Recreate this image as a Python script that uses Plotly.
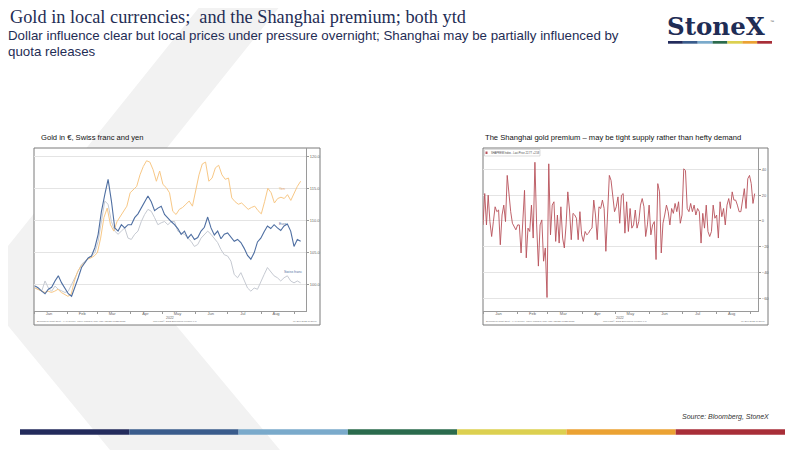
import plotly.graph_objects as go
import pandas as pd

# ---- data ----
# left chart: gold rebased (start of 2022 = 100)
yen = [99.5, 99.3, 99.0, 98.8, 99.0, 98.8, 99.0, 99.3, 98.8, 98.5, 98.2, 98.5, 100.6, 102.1, 102.9,
       103.4, 104.0, 104.2, 104.5, 105.0, 107.3, 110.5, 112.0, 109.4, 108.4, 109.9, 110.7, 111.5,
       112.3, 114.4, 114.9, 115.4, 117.2, 118.5, 119.4, 119.2, 118.0, 116.2, 117.8, 115.7, 115.2,
       114.4, 111.5, 111.0, 111.8, 112.1, 112.6, 113.1, 112.3, 114.6, 117.2, 118.9, 119.2, 116.2,
       116.7, 118.3, 118.7, 117.2, 116.5, 116.7, 113.6, 113.0, 112.6, 112.8, 112.3, 111.8, 112.1,
       112.3, 111.6, 111.1, 113.0, 115.1, 114.4, 112.8, 113.5, 113.7, 113.5, 114.1, 113.2, 114.4,
       115.4, 116.2]
euro = [99.8, 99.5, 99.0, 98.6, 99.3, 99.6, 100.6, 101.4, 100.3, 99.5, 98.6, 98.2, 99.5, 101.1,
        102.7, 103.4, 104.2, 104.5, 105.8, 107.9, 111.5, 114.1, 116.5, 113.1, 108.9, 108.4, 109.4,
        108.9, 109.4, 109.4, 110.5, 111.1, 112.0, 113.1, 113.9, 113.0, 111.6, 112.0, 112.3, 111.0,
        110.4, 109.9, 109.4, 108.8, 107.9, 108.4, 107.3, 107.9, 107.1, 107.4, 108.4, 109.0, 110.6,
        108.9, 107.8, 108.4, 107.2, 107.9, 108.1, 107.4, 106.8, 107.1, 106.6, 105.7, 104.6, 104.0,
        105.0, 106.7, 107.3, 108.3, 109.2, 108.8, 109.4, 108.9, 108.5, 109.2, 109.5, 108.4, 106.0,
        107.1, 106.8]
swiss = [99.5, 99.3, 99.0, 100.6, 99.5, 99.0, 99.8, 99.3, 99.0, 98.8, 99.0, 100.1, 101.1, 102.1,
         103.2, 103.7, 104.2, 104.5, 105.0, 106.8, 109.9, 113.1, 112.6, 109.9, 108.4, 107.9, 108.4,
         108.9, 107.3, 107.1, 107.9, 108.4, 109.9, 111.0, 111.8, 111.5, 110.5, 109.4, 109.7, 109.9,
         109.4, 109.9, 109.9, 108.4, 108.1, 107.9, 107.3, 106.8, 106.0, 106.3, 107.3, 107.9, 108.4,
         107.9, 107.3, 106.6, 105.5, 104.7, 104.5, 103.7, 101.6, 101.1, 101.9, 100.6, 99.5, 99.0,
         99.5, 99.3, 100.6, 101.6, 102.7, 102.1, 101.4, 101.1, 100.6, 101.1, 101.4, 100.6, 100.3,
         100.6, 100.3]

# right chart: Shanghai gold premium (USD/oz)
shanghai = [-3.1, 21.3, -3.1, 20.0, -0.5, -12.1, -0.5, 11.0, 7.2, 8.5, -18.5, 4.6, 12.3, -0.5,
            35.4, 17.4, 7.2, -1.8, -4.4, -6.9, -3.1, -3.1, -24.9, -3.1, 23.8, -28.7, -5.6, -8.2,
            12.3, -13.3, 45.6, -3.1, -35.1, -3.1, 0.8, -31.3, -21.0, -59.5, 44.4, -10.8, 12.3,
            14.9, -15.9, 4.6, -17.2, 11.0, -13.3, -21.0, -3.1, 22.6, 8.5, -14.6, 5.9, 4.6, 2.1,
            -14.6, 7.2, -10.8, -15.9, -8.2, -10.8, -9.5, -6.9, -5.6, 16.2, 4.6, -14.6, 11.0, 9.7,
            16.2, 9.7, -23.6, 9.7, 35.4, 31.5, 17.4, 7.2, 11.0, 18.7, -1.8, 20.0, 21.3, -9.5, 14.9,
            -8.2, 9.7, -5.6, -3.1, 8.5, -5.6, -0.5, 12.3, 17.4, 11.0, -12.1, -3.1, 12.3, -10.8,
            -3.1, -0.5, -30.0, 29.0, 22.6, -24.9, -1.8, 4.6, 12.3, 7.2, -3.1, 9.7, 5.9, 13.6, 7.2,
            14.9, -1.8, 4.6, 40.5, 39.2, 9.7, 7.2, 13.6, 7.2, 12.3, 4.6, 9.7, 7.2, -17.2, 5.9,
            -5.6, 12.3, -8.2, -12.1, -8.2, 12.3, 2.1, 4.6, -13.3, 14.9, 3.3, 9.7, -3.1, 12.3, 17.4,
            9.7, 22.6, 16.2, 16.2, 12.3, 7.2, 7.2, 17.4, 25.1, 9.7, 32.8, 35.4, 29.0, 13.6, 21.3]

months = ["Jan", "Feb", "Mar", "Apr", "May", "Jun", "Jul", "Aug"]
mid_months = ["2022-%02d-15" % m for m in range(1, 9)]
left_ticks = [100, 105, 110, 115, 120]
right_ticks = [-60, -40, -20, 0, 20, 40]
bar_colors = ["#232b5c", "#3a5c8c", "#7aaacb", "#2b6b4d", "#dcd050", "#eba233", "#a82e38"]

# the page puts the figure 8px in from the top-left corner of the window
OFF = 8
W, H = 800 - OFF, 450 - OFF


def px(x):
    return (x - OFF) / W


def py(y):
    return 1 - (y - OFF) / H


fig = go.Figure()
fig.add_trace(go.Scatter(x=pd.date_range("2022-01-02", "2022-09-07", periods=len(swiss)), y=swiss,
                         mode="lines", line=dict(color="#c6cad2", width=1), xaxis="x", yaxis="y"))
fig.add_trace(go.Scatter(x=pd.date_range("2022-01-02", "2022-09-07", periods=len(yen)), y=yen,
                         mode="lines", line=dict(color="#f8c886", width=1), xaxis="x", yaxis="y"))
fig.add_trace(go.Scatter(x=pd.date_range("2022-01-02", "2022-09-07", periods=len(euro)), y=euro,
                         mode="lines", line=dict(color="#4f6fa2", width=1.1), xaxis="x", yaxis="y"))
fig.add_trace(go.Scatter(x=pd.date_range("2022-01-01", "2022-09-05", periods=len(shanghai)),
                         y=shanghai, mode="lines", line=dict(color="#b8515a", width=0.9),
                         xaxis="x2", yaxis="y2"))

small = dict(family="Liberation Sans", size=4, color="#666666")
xcommon = dict(type="date", tickvals=mid_months, ticktext=months, ticks="", showgrid=False,
               showline=True, linecolor="#9a9a9a", linewidth=1, tickfont=small,
               ticklabelstandoff=-2,
               minor=dict(dtick="M1", tick0="2022-01-01", ticks="outside", ticklen=2,
                          tickcolor="#9a9a9a", showgrid=False),
               zeroline=False, fixedrange=True)
ycommon = dict(side="right", showgrid=True, gridcolor="#e4e4e4", gridwidth=1, showline=True,
               linecolor="#9a9a9a", linewidth=1, ticks="outside", ticklen=2, tickcolor="#9a9a9a",
               tickfont=small, zeroline=False)

fig.update_layout(
    width=W, height=H, margin=dict(l=0, r=0, t=0, b=0), showlegend=False,
    paper_bgcolor="white", plot_bgcolor="white",
    xaxis=dict(domain=[px(34), px(306)], range=["2022-01-01", "2022-09-12"], anchor="y", **xcommon),
    yaxis=dict(domain=[py(311), py(148)], range=[95.9, 121.4], anchor="x", tickvals=left_ticks,
               ticktext=["%.1f" % v for v in left_ticks], **ycommon),
    xaxis2=dict(domain=[px(483), px(758)], range=["2022-01-01", "2022-09-08"], anchor="y2", **xcommon),
    yaxis2=dict(domain=[py(311), py(148)], range=[-70, 56.7], anchor="x2", tickvals=right_ticks,
                **ycommon),
)

# background chevron and chart boxes
chev = [(205, 0), (285, 0), (99, 233), (280, 450), (110, 450), (0, 316), (0, 256)]
path = "M " + " L ".join("%.4f,%.4f" % (px(a), py(b)) for a, b in chev) + " Z"
shapes = [dict(type="path", path=path, xref="paper", yref="paper", fillcolor="#f2f2f2",
               line=dict(width=0), layer="below")]
for x0, x1 in [(34, 320), (483, 768)]:
    shapes.append(dict(type="rect", xref="paper", yref="paper", x0=px(x0), x1=px(x1),
                       y0=py(325), y1=py(148), fillcolor="white",
                       line=dict(color="#7a7a7a", width=1), layer="below"))
# legend box in the Shanghai chart
shapes.append(dict(type="rect", xref="paper", yref="paper", x0=px(484.5), x1=px(540),
                   y0=py(156), y1=py(149.5), fillcolor="white",
                   line=dict(color="#bbbbbb", width=0.5)))
shapes.append(dict(type="rect", xref="paper", yref="paper", x0=px(485.5), x1=px(487.5),
                   y0=py(154), y1=py(151.5), fillcolor="#b8515a", line=dict(width=0)))
# StoneX logo stripe and footer stripe
for i, c in enumerate(bar_colors):
    shapes.append(dict(type="rect", xref="paper", yref="paper",
                       x0=px(668 + i * 104 / 7), x1=px(668 + (i + 1) * 104 / 7),
                       y0=py(43.7), y1=py(41), fillcolor=c, line=dict(width=0)))
    shapes.append(dict(type="rect", xref="paper", yref="paper",
                       x0=px(20 + i * 765 / 7), x1=px(20 + (i + 1) * 765 / 7),
                       y0=py(434.7), y1=py(429.3), fillcolor=c, line=dict(width=0)))
fig.update_layout(shapes=shapes)


def note(x, y, text, size, color="#1f2d55", family="Liberation Sans", xanchor="left", **kw):
    fig.add_annotation(x=px(x), y=py(y), xref="paper", yref="paper", text=text, showarrow=False,
                       xanchor=xanchor, yanchor="middle", align="left",
                       font=dict(family=family, size=size, color=color), **kw)


note(8, 17, "Gold in local currencies;  and the Shanghai premium; both ytd", 18.3,
     family="Liberation Serif")
note(6, 35.5, "Dollar influence clear but local prices under pressure overnight; Shanghai may be partially influenced by",
     13.3)
note(6, 51.5, "quota releases", 13.3)
note(665, 26.5, "<b>StoneX</b>", 24.5, family="DejaVu Serif")
note(768, 21, "™", 4, color="#555555")

note(39, 137, "Gold in €, Swiss franc and yen", 7.6, color="#111111")
note(483, 137, "The Shanghai gold premium – may be tight supply rather than hefty demand", 7.6,
     color="#111111")
note(277, 188.5, "Yen", 3.5, color="#e8a860")
note(277, 224, "Euro", 3.5, color="#4f6fa2")
note(282, 272, "Swiss franc", 3.5, color="#4f6fa2")
note(489, 152.8, "SHAPREM Index - Last Price 22.77 +2.58", 2.6, color="#444444")

for x0, xm, x1 in [(34, 170, 320), (483, 620, 768)]:
    note(xm, 317.5, "2022", 3.5, color="#666666", xanchor="center")
    note(x0 + 1, 321.5, "Bloomberg Chart Spot - XAU Curncy  index rebased, daily 03JAN2022-07SEP2022", 2.4,
         color="#777777")
    note(xm + 5, 321.5, "Copyright© 2022 Bloomberg Finance L.P.", 2.4, color="#777777", xanchor="center")
    note(x1 - 1, 321.5, "07-Sep-2022 10:25:09", 2.4, color="#777777", xanchor="right")

note(771, 417.3, "<i>Source: Bloomberg, StoneX</i>", 7, color="#333333", xanchor="right")

fig.write_html("out.html")
